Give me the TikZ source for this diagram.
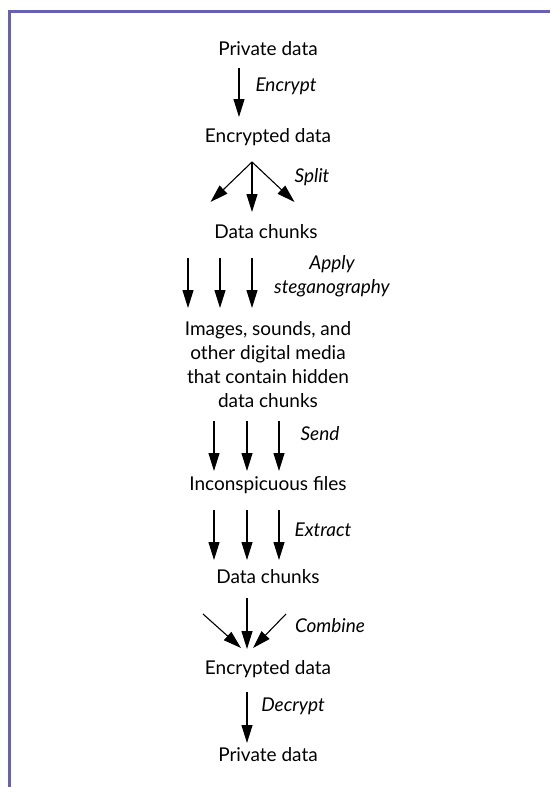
\documentclass[tikz,border=0pt]{standalone}
\usepackage{fontspec}
\setmainfont{Lato}
\usepackage{xcolor}
\usepackage{tikz}
\usetikzlibrary{positioning,arrows.meta,calc}
\definecolor{framepurple}{RGB}{104,96,178}

\begin{document}
\begin{tikzpicture}[
        x=1pt, y=-1pt,
        stage/.style={
            align=center,
            inner sep=0pt,
            font=\fontsize{19}{24}\selectfont
        },
        action/.style={
            align=center,
            inner sep=0pt,
            font=\fontsize{19}{24}\selectfont\itshape
        },
        flow/.style={line width=1.1pt,-{Triangle[length=18pt,width=11pt]}}
    ]

    \useasboundingbox (0,0) rectangle (550,787);
    \draw[framepurple, line width=2.6pt] (9.3,787) -- (9.3,11.5) -- (550,11.5);

    % stages
    \node[stage] (priv1) at (268,49) {Private data};
    \node[stage] (enc1) at (268,137) {Encrypted data};
    \node[stage] (chunks1) at (266,232) {Data chunks};
    \node[stage] (media) at (268,365)
        {Images, sounds, and\\other digital media\\that contain hidden\\data chunks};
    \node[stage] (files) at (268,485) {Inconspicuous files};
    \node[stage] (chunks2) at (268,577) {Data chunks};
    \node[stage] (enc2) at (268,669) {Encrypted data};
    \node[stage] (priv2) at (268,755) {Private data};

    % actions
    \node[action] (encrypt) at (286,86) {Encrypt};
    \node[action] (split) at (312,177) {Split};
    \node[action] (apply) at (332,276) {Apply\\steganography};
    \node[action] (send) at (320,434) {Send};
    \node[action] (extract) at (323,530) {Extract};
    \node[action] (combine) at (330,626) {Combine};
    \node[action] (decrypt) at (293,706) {Decrypt};

    % encrypt
    \coordinate (encrypt-from) at (239,68);
    \coordinate (encrypt-to) at (239,117);
    \draw[flow] (encrypt-from) -- (encrypt-to);

    % split
    \coordinate (split-from) at (252,162);
    \foreach \x/\y [count=\i] in {210.5/202, 252/212, 294.5/202} {
        \coordinate (split-to-\i) at (\x,\y);
        \draw[flow] (split-from) -- (split-to-\i);
    }

    % steganography, send, extract
    \foreach \x [count=\i] in {188,220,252} {
        \coordinate (steg-from-\i) at (\x,258);
        \coordinate (steg-to-\i) at (\x,308);
        \draw[flow] (steg-from-\i) -- (steg-to-\i);
    }
    \foreach \x [count=\i] in {214,247,279} {
        \coordinate (send-from-\i) at (\x,421);
        \coordinate (send-to-\i) at (\x,471);
        \draw[flow] (send-from-\i) -- (send-to-\i);
        \coordinate (extract-from-\i) at (\x,510);
        \coordinate (extract-to-\i) at (\x,560);
        \draw[flow] (extract-from-\i) -- (extract-to-\i);
    }

    % combine
    \coordinate (combine-to) at (247,649);
    \foreach \x/\y [count=\i] in {203/614, 247/598, 286/614} {
        \coordinate (combine-from-\i) at (\x,\y);
    }
    \draw[flow] (combine-from-1) -- (241,648);
    \draw[flow] (combine-from-2) -- (combine-to);
    \draw[flow] (combine-from-3) -- (253,648);

    % decrypt
    \coordinate (decrypt-from) at (247,692);
    \coordinate (decrypt-to) at (247,743);
    \draw[flow] (decrypt-from) -- (decrypt-to);

\end{tikzpicture}
\end{document}
